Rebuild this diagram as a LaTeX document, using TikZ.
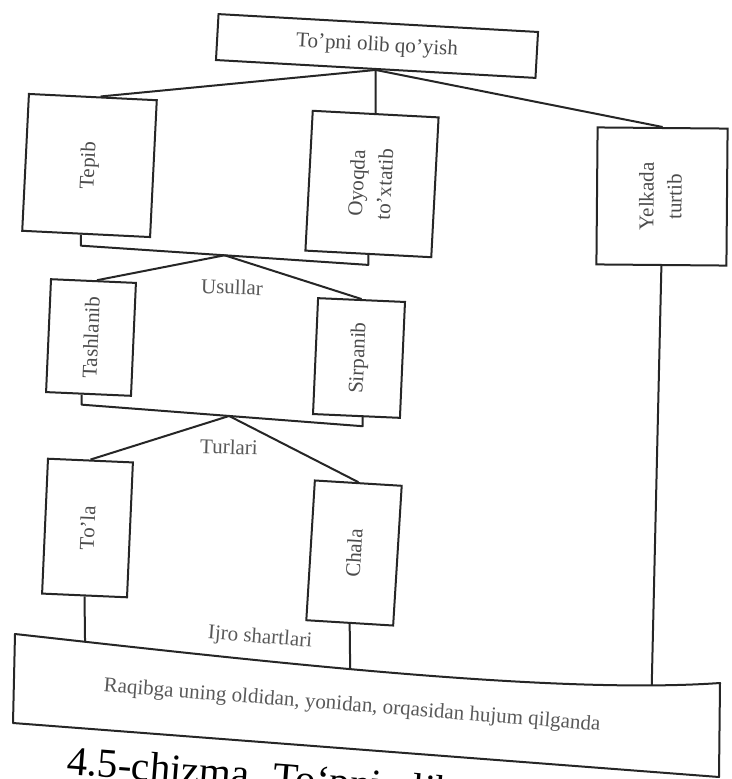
\documentclass[tikz,border=0pt]{standalone}
\usepackage{fontspec}
\usepackage{graphicx}
\setmainfont{Liberation Serif}
\usetikzlibrary{calc}
\begin{document}
\begin{tikzpicture}[x=1pt,y=-1pt,
  box/.style={draw=black!85, line width=2pt, inner sep=0pt, fill=white, text=black!70, font=\fontsize{21}{28}\selectfont},
  lbl/.style={inner sep=0pt, text=black!65, font=\fontsize{21}{26}\selectfont},
  conn/.style={draw=black!85, line width=2pt, line join=round}]
\useasboundingbox (0,0) rectangle (731,779);
\fill[white] (0,0) rectangle (731,779);
\clip (0,0) rectangle (731,779);

% level 1
\node[box, rotate=-3.2, minimum width=320pt, minimum height=46pt] (top) at (377,46) {To’pni olib qo’yish};

% level 2
\node[box, rotate=-2.8, minimum width=128pt, minimum height=137pt] (tepib) at (89.5,165.5) {\rotatebox{90}{Tepib}};
\node[box, rotate=-3, minimum width=126pt, minimum height=140pt] (oyoq) at (372,184) {\rotatebox{90}{\begin{tabular}{@{}c@{}}Oyoqda\\to’xtatib\end{tabular}}};
\node[box, rotate=-0.5, minimum width=130pt, minimum height=137pt] (yelka) at (662,196.5) {\rotatebox{90}{\begin{tabular}{@{}c@{}}Yelkada\\turtib\end{tabular}}};

% level 3
\node[box, rotate=-2.5, minimum width=85pt, minimum height=113pt] (tash) at (91,337.5) {\rotatebox{90}{Tashlanib}};
\node[box, rotate=-2.5, minimum width=87pt, minimum height=116pt] (sirp) at (359,358) {\rotatebox{90}{Sirpanib}};

% level 4
\node[box, rotate=-2.5, minimum width=85pt, minimum height=135pt] (tola) at (87.5,528) {\rotatebox{90}{To’la}};
\node[box, rotate=-3.5, minimum width=87pt, minimum height=140pt] (chala) at (354,553) {\rotatebox{90}{Chala}};

% labels
\node[lbl, rotate=-2] (usul) at (232,287) {Usullar};
\node[lbl, rotate=-2] (turl) at (229,447) {Turlari};
\node[lbl, rotate=-4.5] (ijro) at (260,638) {Ijro shartlari};

% bottom box
\coordinate (btl) at (15,634);
\coordinate (btr) at (720,683);
\coordinate (bbr) at (719,777);
\coordinate (bbl) at (13,723);
\draw[conn] (btl) .. controls (250,660) and (550,695) .. (btr)
  coordinate[pos=0.097] (e1) coordinate[pos=0.445] (e2) coordinate[pos=0.877] (e3)
  -- (bbr) -- (bbl) -- cycle;
\node[lbl, rotate=-4.5] (raq) at (352,706) {Raqibga uning oldidan, yonidan, orqasidan hujum qilganda};

% connectors from top
\draw[conn] (top.south) -- ($(tepib.north west)!0.56!(tepib.north east)$);
\draw[conn] (top.south) -- (oyoq.north);
\draw[conn] (top.south) -- (yelka.north);

% bracket 1
\coordinate (b1) at ($(tepib.south west)!0.46!(tepib.south east)$);
\coordinate (c1) at ($(b1)+(0,11)$);
\coordinate (c2) at ($(oyoq.south)+(0,10)$);
\draw[conn] (b1) -- (c1) -- (c2) -- (oyoq.south);
\coordinate (j1) at ($(c1)!0.5!(c2)$);
\draw[conn] (j1) -- ($(tash.north west)!0.54!(tash.north east)$);
\draw[conn] (j1) -- (sirp.north);

% bracket 2
\coordinate (b2) at ($(tash.south west)!0.42!(tash.south east)$);
\coordinate (c3) at ($(b2)+(0,10)$);
\coordinate (b3) at ($(sirp.south west)!0.57!(sirp.south east)$);
\coordinate (c4) at ($(b3)+(0,9)$);
\draw[conn] (b2) -- (c3) -- (c4) -- (b3);
\coordinate (j2) at ($(c3)!0.525!(c4)$);
\draw[conn] (j2) -- (tola.north);
\draw[conn] (j2) -- (chala.north);

% to bottom box
\draw[conn] (tola.south) -- (e1);
\draw[conn] (chala.south) -- (e2);
\draw[conn] (yelka.south) -- (e3);

% caption (cut by the page edge, as in the reference)
\node[anchor=base west, rotate=-4.5, inner sep=0pt, font=\fontsize{41}{46}\selectfont] (cap) at (66,774) {4.5-chizma. To‘pni olib};
\end{tikzpicture}
\end{document}
